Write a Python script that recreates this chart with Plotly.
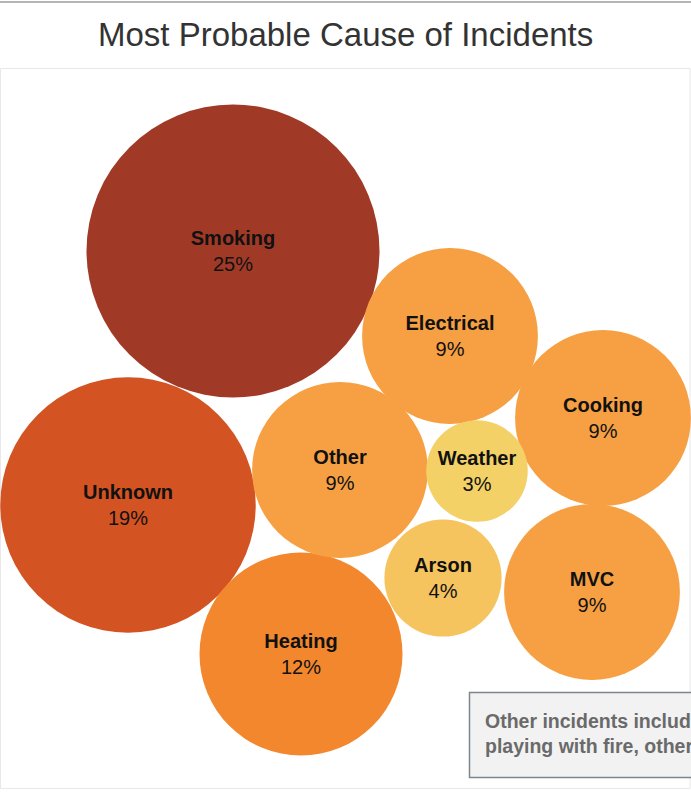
import math
import plotly.graph_objects as go

# Share of incidents by most probable cause (%)
causes = ["Smoking", "Unknown", "Heating", "Other", "Electrical", "Cooking", "MVC", "Arson", "Weather"]
shares = [25, 19, 12, 9, 9, 9, 9, 4, 3]

# Packed-bubble layout: centre of each bubble in page pixels
pack_x = [233, 128, 301, 340, 450, 603, 592, 443, 477]
pack_y = [251, 505, 654, 470, 336, 418, 592, 578, 471]

colors = ["#a03a27", "#d35322", "#f2872d", "#f6a043", "#f6a043", "#f6a043",
          "#f6a043", "#f6c45e", "#f3d166"]

W, H = 691, 792
px_per_sqrt_pct = 29.3  # bubble area proportional to share
diam = [2 * px_per_sqrt_pct * math.sqrt(v) for v in shares]
labels = [f"<b>{c}</b><br>{v}%" for c, v in zip(causes, shares)]

fig = go.Figure()
fig.add_trace(go.Scatter(
    x=pack_x, y=[y + 1.5 for y in pack_y], mode="text",
    text=labels, textposition="middle center",
    textfont=dict(family="Liberation Sans, Arial, sans-serif", size=20, color="#111111"),
    hoverinfo="skip", cliponaxis=True,
))
fig.add_trace(go.Scatter(
    x=pack_x, y=pack_y, mode="markers",
    marker=dict(size=diam, color=colors, opacity=1, line=dict(width=0)),
    hoverinfo="skip", cliponaxis=True,
))
# keep labels drawn above bubbles
fig.data = (fig.data[1], fig.data[0])

shapes = [
    dict(type="line", x0=0, x1=W, y0=2, y1=2, line=dict(color="#b5b5b5", width=2)),
    dict(type="rect", x0=0.5, x1=W - 1, y0=68.5, y1=788.5,
         line=dict(color="#e8e8e8", width=1), fillcolor="rgba(0,0,0,0)", layer="below"),
    dict(type="rect", x0=469.5, x1=W + 60, y0=692.5, y1=777.5,
         line=dict(color="#7d868e", width=1.5), fillcolor="#f2f2f2"),
]

annotations = [
    dict(x=W / 2 - 0.5, y=34, text="Most Probable Cause of Incidents", showarrow=False,
         xanchor="center", yanchor="middle",
         font=dict(family="Liberation Sans, Arial, sans-serif", size=33, color="#333333")),
    dict(x=483, y=733, text="<b>Other incidents include<br>playing with fire, other causes</b>",
         showarrow=False, xanchor="left", yanchor="middle", align="left",
         font=dict(family="Liberation Sans, Arial, sans-serif", size=19.5, color="#6a6a6a")),
]

fig.update_layout(
    width=W, height=H, margin=dict(l=0, r=0, t=0, b=0),
    paper_bgcolor="white", plot_bgcolor="white",
    xaxis=dict(range=[0, W], visible=False, fixedrange=True),
    yaxis=dict(range=[H, 0], visible=False, fixedrange=True),
    shapes=shapes, annotations=annotations, showlegend=False,
)

fig.write_html("out.html")
